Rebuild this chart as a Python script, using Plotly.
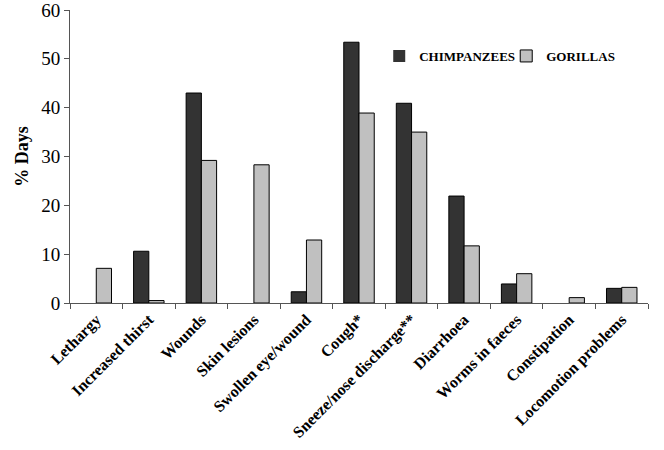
import plotly.graph_objects as go

categories = ["Lethargy", "Increased thirst", "Wounds", "Skin lesions", "Swollen eye/wound",
              "Cough*", "Sneeze/nose discharge**", "Diarrhoea", "Worms in faeces",
              "Constipation", "Locomotion problems"]
chimpanzees = [0, 10.6, 43.0, 0, 2.3, 53.4, 40.9, 21.9, 3.9, 0, 3.0]
gorillas = [7.1, 0.5, 29.2, 28.3, 12.9, 38.9, 35.0, 11.7, 6.0, 1.1, 3.2]
y_ticks = [0, 10, 20, 30, 40, 50, 60]

font_family = "Liberation Serif"

def outline_widths(vals):
    return [0 if v == 0 else 1 for v in vals]

fig = go.Figure()
fig.add_trace(go.Bar(x=categories, y=chimpanzees, name="<b>CHIMPANZEES</b>",
                     marker=dict(color="#333333",
                                 line=dict(color="#000000", width=outline_widths(chimpanzees)))))
fig.add_trace(go.Bar(x=categories, y=gorillas, name="<b>GORILLAS</b>",
                     marker=dict(color="#c0c0c0",
                                 line=dict(color="#000000", width=outline_widths(gorillas)))))

fig.update_layout(
    width=664, height=450,
    margin=dict(l=70, r=16, t=10, b=147, autoexpand=False),
    paper_bgcolor="white", plot_bgcolor="white",
    barmode="group", bargap=0.42, bargroupgap=0,
    font=dict(family=font_family, color="#000000"),
    showlegend=True,
    legend=dict(orientation="h", x=0.535, y=0.843, xanchor="left", yanchor="middle",
                font=dict(family=font_family, size=13, color="#000000"),
                bgcolor="rgba(0,0,0,0)", entrywidth=82, entrywidthmode="pixels"),
)
fig.update_xaxes(
    type="category", showline=True, linecolor="#555555", linewidth=1,
    ticks="outside", tickson="boundaries", ticklen=5, tickcolor="#555555",
    tickangle=-45, tickfont=dict(family=font_family, size=16, color="#000000"),
    tickprefix="<b>", ticksuffix="</b>",
    showgrid=False, zeroline=False, automargin=False,
)
fig.update_yaxes(
    range=[0, 60], tickvals=y_ticks, showline=True, linecolor="#555555", linewidth=1,
    ticks="outside", ticklen=5, tickcolor="#555555", ticklabeloverflow="allow",
    tickfont=dict(family=font_family, size=19, color="#000000"),
    tickprefix="<b>", ticksuffix="</b>",
    title=dict(text="<b>% Days</b>", font=dict(family=font_family, size=18, color="#000000"), standoff=7),
    showgrid=False, zeroline=False, automargin=True,
)

fig.write_html("out.html", config={"displayModeBar": False},
               post_script="document.body.style.margin='0';")
